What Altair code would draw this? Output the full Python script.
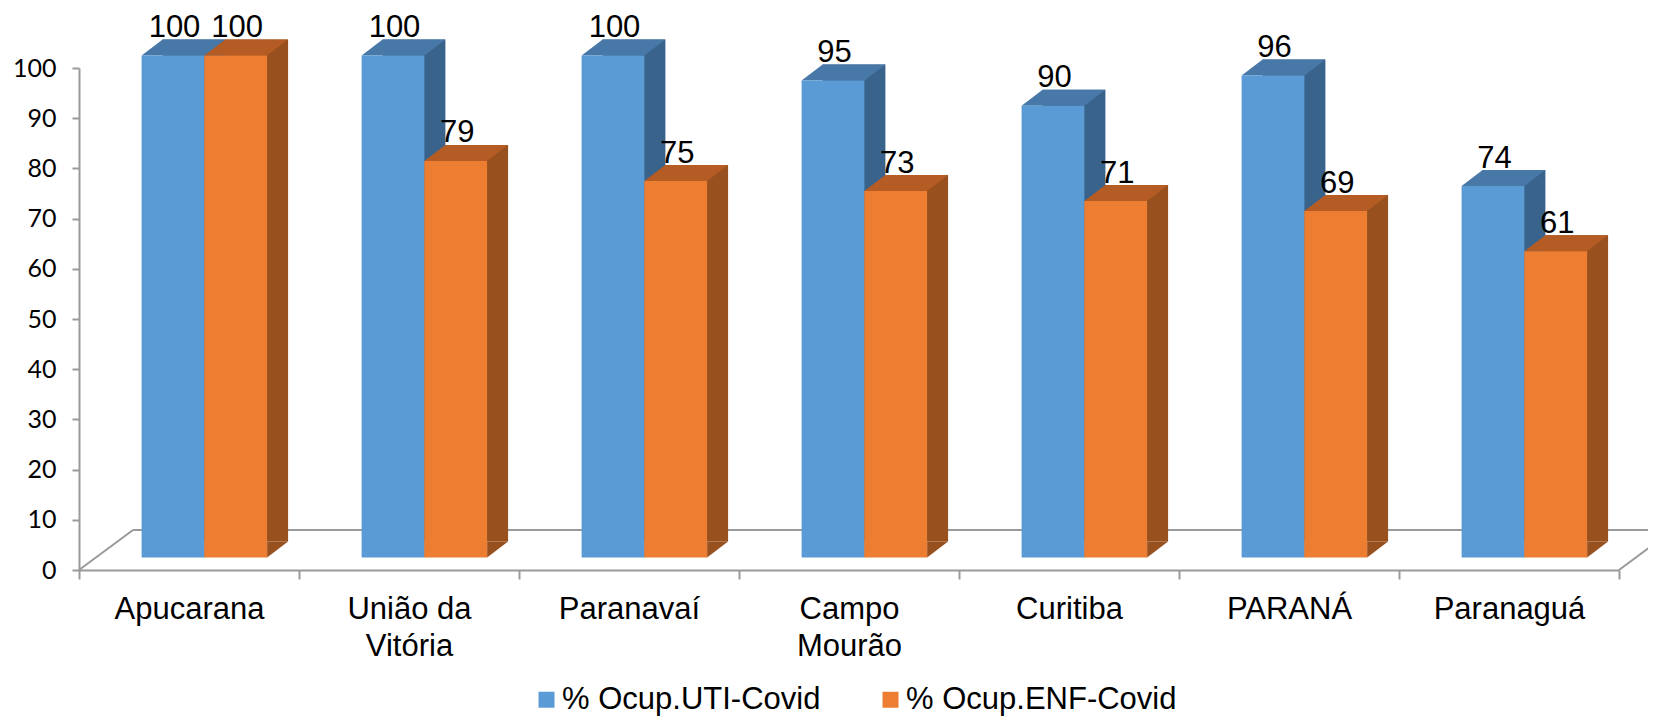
import altair as alt
import pandas as pd

# ---------------- data ----------------
categories = ["Apucarana", "União da Vitória", "Paranavaí", "Campo Mourão",
              "Curitiba", "PARANÁ", "Paranaguá"]
uti_values = [100, 100, 100, 95, 90, 96, 74]
enf_values = [100, 79, 75, 73, 71, 69, 61]
series_names = ["% Ocup.UTI-Covid", "% Ocup.ENF-Covid"]
label_lines = {"União da Vitória": ["União da", "Vitória"],
               "Campo Mourão": ["Campo", "Mourão"]}
y_ticks = [0, 10, 20, 30, 40, 50, 60, 70, 80, 90, 100]

# ---------------- style ----------------
front_colors = ["#5B9BD5", "#ED7D31"]
top_colors = ["#4778A8", "#B55B24"]
side_colors = ["#3A638B", "#97501E"]
GRAY = "#9a9a9a"
W, H = 1540, 502
BAR_W = 62.8
DX, DY = 21, -16          # depth of the 3D boxes
LIFT = -12.5              # bars stand in the middle of the floor
FLOOR_DX, FLOOR_DY = 54, -40
series_shift = [-16, 46.7]  # bar centre relative to category centre

rows = []
for s, vals in zip(series_names, [uti_values, enf_values]):
    for c, v in zip(categories, vals):
        rows.append({"cat": c, "series": s, "value": v})
df = pd.DataFrame(rows)

expr = "datum.label"
for k, lines in label_lines.items():
    arr = "[" + ",".join("'" + l + "'" for l in lines) + "]"
    expr = f"datum.value == '{k}' ? {arr} : ({expr})"

x_scale = alt.Scale(domain=categories, paddingInner=0, paddingOuter=0)
y_scale = alt.Scale(domain=[0, 100], nice=False, zero=True)

x_axis = alt.Axis(title=None, labelExpr=expr, labelFont="Liberation Sans",
                  labelFontSize=31, labelColor="black", labelAngle=0,
                  labelBaseline="alphabetic", labelPadding=39, labelLineHeight=37.7,
                  tickBand="extent", tickSize=9, tickColor=GRAY, tickWidth=2,
                  domainColor=GRAY, domainWidth=2, labelLimit=0, labelOverlap=False,
                  labelFlush=False, grid=False)
y_axis = alt.Axis(title=None, values=y_ticks, labelFont="Lato", labelFontSize=25,
                  labelColor="black", labelPadding=16, tickSize=7, tickColor=GRAY,
                  tickWidth=2, domainColor=GRAY, domainWidth=2, grid=False)

X = alt.X("cat:N", scale=x_scale, axis=x_axis, sort=categories)
Y = alt.Y("value:Q", scale=y_scale, axis=y_axis)
Y0 = alt.YDatum(0, type="quantitative", scale=y_scale, axis=y_axis)

layers = []

# floor (back edge + diagonals)
floor_df = pd.DataFrame({"zero": [0]})
YZ = alt.Y("zero:Q", scale=y_scale, axis=y_axis)
YZ2 = alt.Y2("zero:Q")
layers.append(alt.Chart(floor_df).mark_rule(color=GRAY, strokeWidth=2, yOffset=FLOOR_DY)
              .encode(x=alt.value(FLOOR_DX), x2=alt.value(W + 120), y=YZ))
layers.append(alt.Chart(floor_df).mark_rule(color=GRAY, strokeWidth=2, y2Offset=FLOOR_DY)
              .encode(x=alt.value(0), x2=alt.value(FLOOR_DX), y=YZ, y2=YZ2))
layers.append(alt.Chart(floor_df).mark_rule(color=GRAY, strokeWidth=2, y2Offset=FLOOR_DY)
              .encode(x=alt.value(W), x2=alt.value(W + FLOOR_DX), y=YZ, y2=YZ2))

top_path = f"M0 0 L{DX} {DY} L{BAR_W + DX} {DY} L{BAR_W} 0 Z"
tri_path = f"M{BAR_W} {DY} L{BAR_W} 0 L{BAR_W + DX} {DY} Z"

def part(i):
    return alt.Chart(df).transform_filter(alt.datum.series == series_names[i])

# side faces (shifted boxes)
for i in range(2):
    layers.append(part(i).mark_bar(width=BAR_W, color=side_colors[i],
                                   xOffset=series_shift[i] + DX,
                                   yOffset=LIFT + DY, y2Offset=LIFT + DY)
                  .encode(x=X, y=Y))
# bottom slanted edge of the side faces
for i in range(2):
    layers.append(part(i).mark_point(shape=tri_path, size=4, filled=True, opacity=1,
                                     color=side_colors[i], strokeWidth=0,
                                     xOffset=series_shift[i] - BAR_W / 2, yOffset=LIFT)
                  .encode(x=X, y=Y0))
# top faces
for i in range(2):
    layers.append(part(i).mark_point(shape=top_path, size=4, filled=True, opacity=1,
                                     color=top_colors[i], strokeWidth=0,
                                     xOffset=series_shift[i] - BAR_W / 2, yOffset=LIFT)
                  .encode(x=X, y=Y))
# front faces
color = alt.Color("series:N", scale=alt.Scale(domain=series_names, range=front_colors),
                  legend=alt.Legend(title=None, orient="none", legendX=452, legendY=616,
                                    direction="horizontal", symbolType="square",
                                    symbolSize=256, symbolStrokeWidth=0,
                                    labelFont="Liberation Sans", labelFontSize=31,
                                    labelColor="black", labelOffset=0, columnPadding=54,
                                    labelLimit=0, padding=0, symbolOpacity=1))
for i in range(2):
    layers.append(part(i).mark_bar(width=BAR_W, xOffset=series_shift[i],
                                   yOffset=LIFT, y2Offset=LIFT)
                  .encode(x=X, y=Y, color=color))
# value labels
for i in range(2):
    layers.append(part(i).mark_text(font="Liberation Sans", fontSize=31, color="black",
                                    align="center", baseline="alphabetic",
                                    xOffset=series_shift[i] + 1.5, dy=-31)
                  .encode(x=X, y=Y, text=alt.Text("value:Q")))

chart = alt.layer(*layers).properties(
    width=W, height=H,
    autosize=alt.AutoSizeParams(type="none"),
    padding={"left": 71, "top": 60, "right": 29, "bottom": 149},
    background="white",
).configure_view(stroke=None)

chart.save("out.html", embed_options={"renderer": "svg", "actions": False})
